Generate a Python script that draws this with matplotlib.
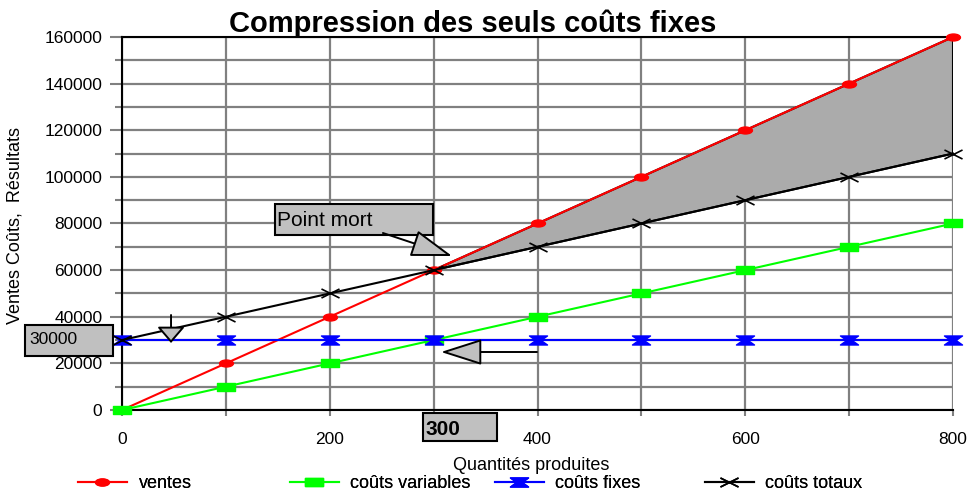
import numpy as np
import matplotlib
matplotlib.use('Agg')
import matplotlib.pyplot as plt
from matplotlib.path import Path
from matplotlib.patches import Polygon, Rectangle
from matplotlib.ticker import MultipleLocator, NullFormatter

plt.rcParams['font.family'] = ['Liberation Sans', 'DejaVu Sans']

# données
quantites = [0, 100, 200, 300, 400, 500, 600, 700, 800]
ventes = [0, 20000, 40000, 60000, 80000, 100000, 120000, 140000, 160000]
couts_variables = [0, 10000, 20000, 30000, 40000, 50000, 60000, 70000, 80000]
couts_fixes = [30000, 30000, 30000, 30000, 30000, 30000, 30000, 30000, 30000]
couts_totaux = [30000, 40000, 50000, 60000, 70000, 80000, 90000, 100000, 110000]
point_mort = (300, 60000)

serie_labels = ['ventes', 'coûts variables', 'coûts fixes', 'coûts totaux']
serie_colors = ['#ff0000', '#00ff00', '#0000ff', '#000000']


def ellipse_marker():
    c = Path.unit_circle()
    return Path(c.vertices * [1.0, 0.5], c.codes)


def rect_marker():
    return Path([(-1, -0.5), (1, -0.5), (1, 0.5), (-1, 0.5), (-1, -0.5)],
                [Path.MOVETO, Path.LINETO, Path.LINETO, Path.LINETO, Path.CLOSEPOLY])


def bowtie_marker():
    return Path([(-1, 0.5), (1, 0.5), (0.3, 0), (1, -0.5), (-1, -0.5), (-0.3, 0), (-1, 0.5)],
                [Path.MOVETO] + [Path.LINETO] * 5 + [Path.CLOSEPOLY])


def cross_marker():
    return Path([(-1, -0.5), (1, 0.5), (-1, 0.5), (1, -0.5)],
                [Path.MOVETO, Path.LINETO, Path.MOVETO, Path.LINETO])


styles = [
    dict(marker=ellipse_marker(), ms=10, mec='#ff0000', mfc='#ff0000'),
    dict(marker=rect_marker(), ms=12.5, mec='#00ff00', mfc='#00ff00'),
    dict(marker=bowtie_marker(), ms=13, mec='#0000ff', mfc='#0000ff'),
    dict(marker=cross_marker(), ms=13, mec='#000000', mew=1.2),
]

fig = plt.figure(figsize=(9.69, 4.97), dpi=100)
ax = fig.add_axes([122 / 969, 1 - 410 / 497, 831 / 969, 373 / 497])

series = [ventes, couts_variables, couts_fixes, couts_totaux]
handles = []
for vals, col, lab, st in zip(series, serie_colors, serie_labels, styles):
    ln, = ax.plot(quantites, vals, color=col, lw=1.5, label=lab, clip_on=False, zorder=3, **st)
    handles.append(ln)

# zone grisée entre ventes et coûts totaux après le point mort
poly = Polygon([point_mort, (quantites[-1], ventes[-1]), (quantites[-1], couts_totaux[-1])],
               closed=True, facecolor='#ababab', edgecolor='black', lw=1.5, zorder=2.5)
ax.add_patch(poly)

ax.set_xlim(0, 800)
ax.set_ylim(0, 160000)
ax.xaxis.set_major_locator(MultipleLocator(200))
ax.xaxis.set_minor_locator(MultipleLocator(100))
ax.yaxis.set_major_locator(MultipleLocator(20000))
ax.yaxis.set_minor_locator(MultipleLocator(10000))
ax.xaxis.set_minor_formatter(NullFormatter())
ax.yaxis.set_minor_formatter(NullFormatter())
ax.grid(True, which='both', color='#808080', lw=1.6, zorder=1)
ax.set_axisbelow(True)

ax.tick_params(axis='y', which='major', length=8.6, width=1.5, color='#808080', pad=5.5, labelsize=12.5)
ax.tick_params(axis='y', which='minor', length=5, width=1.5, color='#808080')
ax.tick_params(axis='x', which='both', length=4.3, width=1.5, color='#808080', pad=11.5, labelsize=12.5)

for side in ['left', 'bottom', 'top']:
    ax.spines[side].set_linewidth(1.5)
    ax.spines[side].set_color('black')
ax.spines['right'].set_visible(False)

# boîtes d'annotation
box_kw = dict(facecolor='#c0c0c0', edgecolor='black', lw=1.5, clip_on=False, zorder=6)
ax.add_patch(Rectangle((147.3, 75066), 152.1, 13298, **box_kw))
ax.text(149.5, 78927, 'Point mort', fontsize=15, va='baseline', ha='left', zorder=7)

ax.add_patch(Rectangle((-93.4, 23163), 84.7, 13298, **box_kw))
ax.text(-89.5, 28311, '30000', fontsize=12.5, va='baseline', ha='left', zorder=7, clip_on=False)

ax.add_patch(Rectangle((289.8, -13297), 71.2, 12010, **box_kw))
ax.text(291.7, -10724, '300', fontsize=15, fontweight='bold', va='baseline', ha='left', zorder=7, clip_on=False)

# flèches
arr = dict(facecolor='#c0c0c0', edgecolor='black', lw=1.4, shrinkA=0, shrinkB=0, mutation_scale=10)
ax.annotate('', xy=(317.7, 66060), xytext=(251.2, 75925),
            arrowprops=dict(arrowstyle='-|>,head_length=2.6,head_width=0.86', **arr), zorder=8)
ax.annotate('', xy=(47.2, 28740), xytext=(47.2, 40750),
            arrowprops=dict(arrowstyle='-|>,head_length=1.0,head_width=0.86', **arr), zorder=8)
ax.annotate('', xy=(307.1, 24880), xytext=(399.5, 24880),
            arrowprops=dict(arrowstyle='-|>,head_length=2.6,head_width=0.83', **arr), zorder=8)

fig.text(473 / 969, 1 - 32 / 497, 'Compression des seuls coûts fixes',
         fontsize=21, fontweight='bold', ha='center', va='baseline')
fig.text(531 / 969, 1 - 470 / 497, 'Quantités produites', fontsize=13, ha='center', va='baseline')
fig.text(15 / 969, 1 - 225 / 497, 'Ventes Coûts,  Résultats', fontsize=13,
         rotation=90, ha='center', va='center')

# légende en bas, une entrée par position
leg_x = [78, 290, 495, 705]
for h, x in zip(handles, leg_x):
    leg = fig.legend(handles=[h], loc='center left', bbox_to_anchor=(x / 969, 1 - 484 / 497),
                     frameon=False, fontsize=13, handlelength=2.7, handletextpad=0.65,
                     borderpad=0, borderaxespad=0)
    fig.add_artist(leg)

fig.savefig('out.png', dpi=100)
